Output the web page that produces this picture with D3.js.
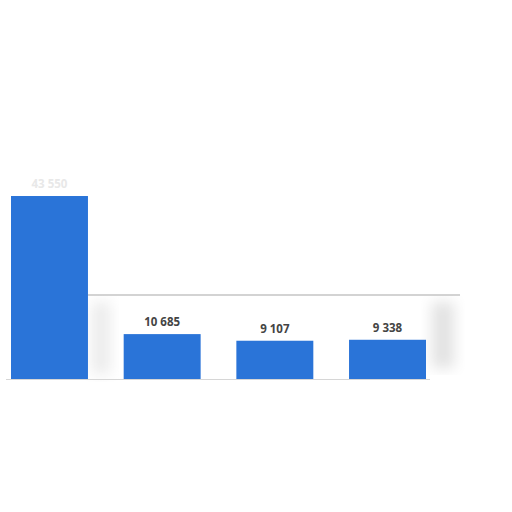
<!DOCTYPE html>
<html>
<head>
<meta charset="utf-8">
<script src="https://cdn.jsdelivr.net/npm/d3@7"></script>
<style>
  body { margin: 0; background: #fff; }
  svg { display: block; }
</style>
</head>
<body>
<svg width="512" height="512"></svg>
<script>
const categories = ['A', 'B', 'C', 'D'];
const values = [43550, 10685, 9107, 9338];
const labels = ['43 550', '10 685', '9 107', '9 338'];

const svg = d3.select('svg');
const baseY = 379;

const xScale = d3.scaleBand()
    .domain(categories)
    .range([11, 426])
    .paddingInner(0.317)
    .paddingOuter(0);

const yScale = d3.scaleLinear()
    .domain([0, 50000])
    .range([baseY, baseY - 50000 / 238]);

// soft shadows from the blurred backdrop
const defs = svg.append('defs');
defs.append('filter').attr('id', 'blur')
    .attr('x', '-50%').attr('width', '200%')
    .append('feGaussianBlur').attr('stdDeviation', 7);

svg.append('rect')
    .attr('x', 92).attr('y', 302).attr('width', 18).attr('height', 72)
    .attr('fill', '#ebebeb').attr('filter', 'url(#blur)');
svg.append('rect')
    .attr('x', 432).attr('y', 302).attr('width', 22).attr('height', 66)
    .attr('fill', '#e2e2e2').attr('filter', 'url(#blur)');

// faint horizontal rule behind the small bars
svg.append('line')
    .attr('x1', xScale('A') + xScale.bandwidth()).attr('x2', 460)
    .attr('y1', 295).attr('y2', 295)
    .attr('stroke', '#c4c4c4').attr('stroke-width', 1.5);

// baseline
svg.append('line')
    .attr('x1', 6).attr('x2', 430)
    .attr('y1', baseY + 0.5).attr('y2', baseY + 0.5)
    .attr('stroke', '#d6d6d6').attr('stroke-width', 1);

const g = svg.append('g');

g.selectAll('rect.bar').data(values)
    .enter().append('rect')
    .attr('class', 'bar')
    .attr('x', (d, i) => xScale(categories[i]))
    .attr('y', d => yScale(d))
    .attr('width', xScale.bandwidth())
    .attr('height', d => baseY - yScale(d))
    .attr('fill', '#2a74d8');

g.selectAll('text.lbl').data(values)
    .enter().append('text')
    .attr('class', 'lbl')
    .attr('x', (d, i) => xScale(categories[i]) + xScale.bandwidth() / 2)
    .attr('y', d => yScale(d) - 8)
    .attr('text-anchor', 'middle')
    .attr('font-family', 'Open Sans, sans-serif')
    .attr('font-weight', 700)
    .attr('font-size', 11.5)
    .attr('fill', (d, i) => i === 0 ? '#e8e8e8' : '#444')
    .text((d, i) => labels[i]);
</script>
</body>
</html>
